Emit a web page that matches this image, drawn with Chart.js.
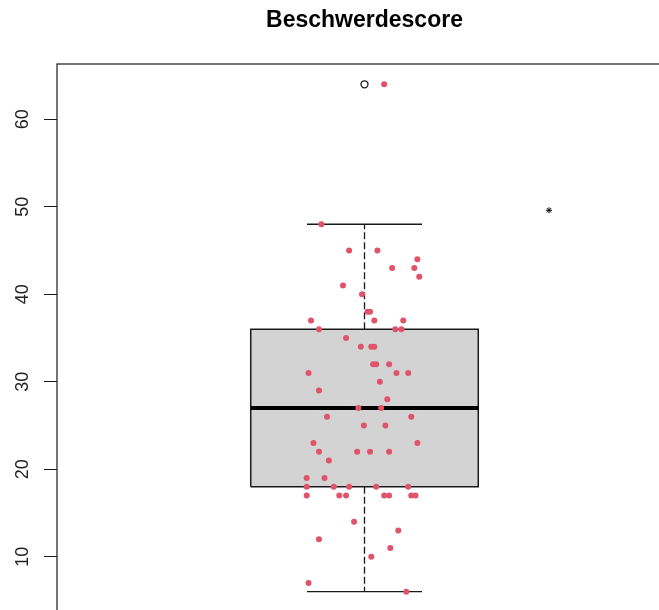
<!DOCTYPE html>
<html>
<head>
<meta charset="utf-8">
<script src="https://cdn.jsdelivr.net/npm/chart.js@4/dist/chart.umd.min.js"></script>
<style>
  html, body { margin: 0; padding: 0; background: #fff; overflow: hidden; width: 659px; height: 610px; }
  canvas { display: block; }
</style>
</head>
<body>
<canvas id="c" width="672" height="612"></canvas>
<script>
const chartTitle = 'Beschwerdescore';
const yTicks = [10, 20, 30, 40, 50, 60];

// five-number summary of the box
const q1 = 18;
const median = 27;
const q3 = 36;
const whiskerLow = 6;
const whiskerHigh = 48;
const outliers = [64];

// individual scores and their horizontal jitter positions
const scores = [64, 48, 45, 45, 44, 43, 43, 42, 41, 40, 38, 38, 37, 37, 37, 36, 36, 36, 35,
  34, 34, 34, 32, 32, 32, 31, 31, 31, 30, 29, 28, 27, 27, 26, 26, 25, 25, 23, 23,
  22, 22, 22, 22, 21, 19, 19, 18, 18, 18, 18, 18, 17, 17, 17, 17, 17, 17, 17,
  14, 13, 12, 11, 10, 7, 6];
const jitterX = [1.032, 0.930, 0.975, 1.021, 1.086, 1.045, 1.081, 1.089, 0.965, 0.996, 1.005, 1.009,
  0.913, 1.016, 1.063, 0.926, 1.050, 1.060, 0.970, 0.994, 1.011, 1.016, 1.014, 1.019, 1.040,
  0.909, 1.052, 1.071, 1.025, 0.926, 1.037, 0.990, 1.027, 0.939, 1.076, 0.999, 1.034,
  0.917, 1.086, 0.926, 0.988, 1.009, 1.040, 0.942, 0.906, 0.935, 0.906, 0.950, 0.975,
  1.019, 1.071, 0.906, 0.959, 0.970, 1.032, 1.040, 1.076, 1.083, 0.983, 1.055, 0.926,
  1.042, 1.011, 0.909, 1.068];

// asterisk annotation
const markX = [1.3];
const markY = [49.6];

// geometry of the box (x units, box centred at 1)
const boxCenter = 1;
const boxHalf = 0.185;
const capHalf = 0.0935;

const lo = Math.min(...scores), hi = Math.max(...scores);
const ext = 0.04 * (hi - lo);

const FONT = "'Liberation Sans', Arial, Helvetica, sans-serif";
const RED = '#DF536B';
const INK = '#1a1a1a';

const seg = (x0, y0, x1, y1) => [{ x: x0, y: y0 }, { x: x1, y: y1 }];

const lineBase = { type: 'line', pointRadius: 0, tension: 0, fill: false, borderCapStyle: 'butt' };

const frame = {
  id: 'frame',
  afterDatasetsDraw(chart) {
    const { ctx, chartArea: a } = chart;
    ctx.save();
    ctx.strokeStyle = INK;
    ctx.lineWidth = 1.2;
    ctx.strokeRect(a.left, a.top, a.right - a.left, a.bottom - a.top);
    ctx.restore();
  }
};

new Chart(document.getElementById('c'), {
  type: 'scatter',
  data: {
    datasets: [
      {
        type: 'scatter',
        data: scores.map((y, i) => ({ x: jitterX[i], y })),
        pointRadius: 3,
        pointBackgroundColor: RED,
        pointBorderWidth: 0,
        order: 0
      },
      {
        type: 'scatter',
        data: outliers.map(y => ({ x: boxCenter, y })),
        pointRadius: 3.5,
        pointBackgroundColor: 'rgba(0,0,0,0)',
        pointBorderColor: INK,
        pointBorderWidth: 1.3,
        order: 1
      },
      {
        type: 'scatter',
        data: markX.map((x, i) => ({ x, y: markY[i] })),
        pointStyle: 'star',
        pointRadius: 3,
        pointBorderColor: '#000',
        pointBorderWidth: 1,
        order: 1
      },
      Object.assign({}, lineBase, {
        data: seg(boxCenter - boxHalf, median, boxCenter + boxHalf, median),
        borderColor: '#000',
        borderWidth: 4,
        order: 2
      }),
      Object.assign({}, lineBase, {
        data: [
          { x: boxCenter - boxHalf, y: q1 }, { x: boxCenter + boxHalf, y: q1 },
          { x: boxCenter + boxHalf, y: q3 }, { x: boxCenter - boxHalf, y: q3 },
          { x: boxCenter - boxHalf, y: q1 }
        ],
        fill: 'shape',
        backgroundColor: '#D3D3D3',
        borderColor: INK,
        borderWidth: 1.5,
        borderJoinStyle: 'miter',
        order: 3
      }),
      Object.assign({}, lineBase, {
        data: seg(boxCenter, q3, boxCenter, whiskerHigh),
        borderColor: INK, borderWidth: 1.3, borderDash: [7, 3], order: 4
      }),
      Object.assign({}, lineBase, {
        data: seg(boxCenter, q1, boxCenter, whiskerLow),
        borderColor: INK, borderWidth: 1.3, borderDash: [7, 3], order: 4
      }),
      Object.assign({}, lineBase, {
        data: seg(boxCenter - capHalf, whiskerHigh, boxCenter + capHalf, whiskerHigh),
        borderColor: INK, borderWidth: 1.3, order: 4
      }),
      Object.assign({}, lineBase, {
        data: seg(boxCenter - capHalf, whiskerLow, boxCenter + capHalf, whiskerLow),
        borderColor: INK, borderWidth: 1.3, order: 4
      })
    ]
  },
  options: {
    responsive: false,
    maintainAspectRatio: false,
    animation: false,
    devicePixelRatio: 1,
    layout: { padding: 0, autoPadding: false },
    plugins: {
      legend: { display: false },
      tooltip: { enabled: false },
      title: {
        display: true,
        text: chartTitle,
        fullSize: false,
        color: '#000',
        font: { family: FONT, size: 23, weight: 'bold', lineHeight: 1.2 },
        padding: { top: 6.5, bottom: 29.9 }
      }
    },
    scales: {
      x: { type: 'linear', min: 0.5, max: 1.5, display: false },
      y: {
        type: 'linear',
        min: lo - ext,
        max: hi + ext,
        afterBuildTicks: s => { s.ticks = yTicks.map(v => ({ value: v })); },
        afterFit: s => { s.width = 57; s.paddingTop = 0; s.paddingBottom = 0; },
        border: { display: false },
        grid: { display: true, drawOnChartArea: false, drawTicks: true, tickLength: 13, color: INK, lineWidth: 1 },
        ticks: {
          minRotation: 90, maxRotation: 90, crossAlign: 'center', padding: 11,
          color: '#222', font: { family: FONT, size: 18 },
          callback: v => String(v)
        }
      }
    }
  },
  plugins: [frame]
});
</script>
</body>
</html>
